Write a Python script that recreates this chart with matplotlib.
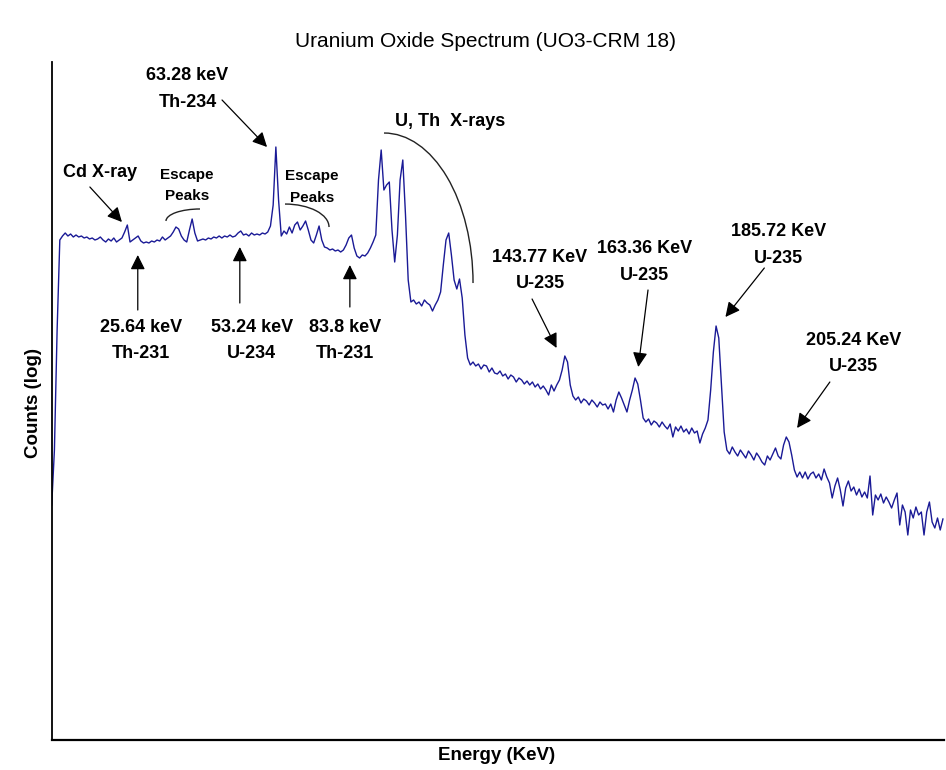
import matplotlib.pyplot as plt
import numpy as np
from matplotlib.patches import Arc

plt.rcParams['font.family'] = ['Liberation Sans', 'DejaVu Sans']

# MCA calibration of the spectrum (keV)
first_kev = 1.0
kev_per_channel = 0.75

# log10(counts) per channel
log_counts = [
    2.35, 2.90, 4.10, 5.00, 5.04, 5.07, 5.04, 5.06, 5.03, 5.05,
    5.03, 5.04, 5.02, 5.03, 5.01, 5.02, 5.00, 5.01, 5.03, 5.00,
    4.98, 5.01, 4.99, 5.02, 4.98, 5.00, 5.02, 5.08, 5.15, 4.98,
    5.00, 5.02, 5.04, 4.99, 4.97, 4.98, 4.97, 4.99, 4.98, 5.00,
    4.99, 5.03, 5.00, 5.02, 5.04, 5.08, 5.13, 5.11, 5.04, 5.00,
    4.98, 5.10, 5.21, 5.07, 4.99, 5.00, 5.01, 5.00, 5.02, 5.01,
    5.03, 5.02, 5.04, 5.02, 5.04, 5.03, 5.05, 5.03, 5.04, 5.07,
    5.09, 5.05, 5.06, 5.04, 5.07, 5.05, 5.06, 5.05, 5.07, 5.06,
    5.08, 5.14, 5.35, 5.93, 5.40, 5.04, 5.09, 5.06, 5.13, 5.07,
    5.15, 5.18, 5.10, 5.14, 5.19, 5.10, 5.00, 4.97, 5.05, 5.14,
    5.00, 4.93, 4.92, 4.90, 4.91, 4.89, 4.90, 4.88, 4.90, 4.95,
    5.02, 5.05, 4.92, 4.84, 4.82, 4.85, 4.84, 4.87, 4.92, 4.98,
    5.05, 5.60, 5.90, 5.50, 5.55, 5.58, 5.10, 4.78, 5.05, 5.60,
    5.80, 5.25, 4.60, 4.38, 4.40, 4.36, 4.38, 4.34, 4.40, 4.37,
    4.35, 4.29, 4.35, 4.40, 4.48, 4.75, 5.00, 5.07, 4.85, 4.60,
    4.51, 4.61, 4.42, 4.05, 3.82, 3.75, 3.78, 3.74, 3.76, 3.71,
    3.75, 3.74, 3.68, 3.72, 3.67, 3.66, 3.69, 3.64, 3.66, 3.61,
    3.65, 3.63, 3.58, 3.62, 3.60, 3.56, 3.59, 3.55, 3.58, 3.53,
    3.56, 3.51, 3.54, 3.50, 3.45, 3.55, 3.49, 3.55, 3.60, 3.70,
    3.84, 3.78, 3.55, 3.44, 3.40, 3.43, 3.37, 3.41, 3.39, 3.35,
    3.40, 3.37, 3.33, 3.38, 3.35, 3.36, 3.31, 3.36, 3.28, 3.40,
    3.48, 3.42, 3.35, 3.28, 3.40, 3.50, 3.62, 3.56, 3.40, 3.22,
    3.18, 3.21, 3.15, 3.19, 3.17, 3.13, 3.18, 3.14, 3.11, 3.16,
    3.03, 3.13, 3.09, 3.14, 3.08, 3.11, 3.06, 3.12, 3.07, 3.09,
    2.97, 3.06, 3.12, 3.20, 3.50, 3.88, 4.14, 4.02, 3.55, 3.08,
    2.90, 2.86, 2.93, 2.88, 2.84, 2.90, 2.86, 2.82, 2.89, 2.85,
    2.80, 2.87, 2.83, 2.78, 2.75, 2.84, 2.80, 2.86, 2.92, 2.84,
    2.81, 2.95, 3.03, 2.98, 2.85, 2.70, 2.63, 2.68, 2.62, 2.68,
    2.61, 2.66, 2.68, 2.62, 2.66, 2.60, 2.71, 2.63, 2.57, 2.42,
    2.54, 2.62, 2.50, 2.34, 2.52, 2.59, 2.49, 2.53, 2.45, 2.51,
    2.43, 2.48, 2.42, 2.64, 2.25, 2.45, 2.40, 2.46, 2.37, 2.43,
    2.38, 2.32, 2.40, 2.47, 2.15, 2.35, 2.28, 2.05, 2.30, 2.22,
    2.33, 2.25, 2.28, 2.05, 2.28, 2.38, 2.18, 2.12, 2.22, 2.10,
    2.21,
]

energy_kev = first_kev + kev_per_channel * np.arange(len(log_counts))
counts = 10.0 ** np.array(log_counts)

fig = plt.figure(figsize=(9.46, 7.70), dpi=100)
ax = fig.add_axes([0.05497, 0.03896, 0.94292, 0.88052])

ax.plot(energy_kev, counts, color='#1a1a96', lw=1.0)
ax.set_yscale('log')
ax.set_xlim(1.08, 248.8)
ax.set_ylim(1, 10 ** 6.78)

ax.set_xticks([])
ax.set_yticks([])
ax.minorticks_off()
ax.spines['top'].set_visible(False)
ax.spines['right'].set_visible(False)
ax.spines['left'].set_linewidth(1.3)
ax.spines['bottom'].set_linewidth(1.6)

fig.text(0.5137, 0.9394, 'Uranium Oxide Spectrum (UO3-CRM 18)',
         ha='center', va='baseline', fontsize=15)
fig.text(0.0349, 0.4766, 'Counts (log)', rotation=90, ha='center',
         va='center', fontsize=13.5, fontweight='bold')
fig.text(0.5254, 0.0182, 'Energy (KeV)', ha='center', va='center',
         fontsize=13.5, fontweight='bold')

label_kw = dict(ha='center', va='center', fontsize=13, fontweight='bold',
                linespacing=1.75)
small_kw = dict(ha='center', va='center', fontsize=11, fontweight='bold',
                linespacing=1.65)
arrow_kw = dict(arrowstyle='-|>', color='black', lw=0.9,
                mutation_scale=22, shrinkA=0, shrinkB=0)


def arrow(x0, l0, x1, l1):
    ax.annotate('', xy=(x1, 10 ** l1), xytext=(x0, 10 ** l0),
                arrowprops=arrow_kw)


# peak labels (energy keV, log10 counts)
ax.text(38.7, 10 ** 6.51, '63.28 keV\nTh-234', **label_kw)
arrow(48.3, 6.40, 60.8, 5.93)

ax.text(14.4, 10 ** 5.68, 'Cd X-ray', **label_kw)
arrow(11.6, 5.53, 20.5, 5.18)

ax.text(38.6, 10 ** 5.545, 'Escape\nPeaks', **small_kw)
ax.text(73.3, 10 ** 5.53, 'Escape\nPeaks', **small_kw)

ax.text(25.7, 10 ** 3.995, '25.64 keV\nTh-231', **label_kw)
arrow(24.9, 4.30, 24.9, 4.85)

ax.text(56.6, 10 ** 3.995, '53.24 keV\nU-234', **label_kw)
arrow(53.24, 4.37, 53.24, 4.93)

ax.text(82.4, 10 ** 3.995, '83.8 keV\nTh-231', **label_kw)
arrow(83.8, 4.33, 83.8, 4.75)

ax.text(96.3, 10 ** 6.19, 'U, Th  X-rays', ha='left', va='center',
        fontsize=13, fontweight='bold')

ax.text(136.6, 10 ** 4.695, '143.77 KeV\nU-235', **label_kw)
arrow(134.4, 4.41, 141.2, 3.92)

ax.text(165.6, 10 ** 4.78, '163.36 KeV\nU-235', **label_kw)
arrow(166.6, 4.50, 163.9, 3.73)

ax.text(202.8, 10 ** 4.95, '185.72 KeV\nU-235', **label_kw)
arrow(198.9, 4.72, 188.1, 4.23)

ax.text(223.6, 10 ** 3.865, '205.24 KeV\nU-235', **label_kw)
arrow(217.1, 3.58, 208.0, 3.12)

# brackets under the group labels
arc_kw = dict(transform=ax.transAxes, color='#222222', lw=1.0)
ax.add_patch(Arc((0.1659, 0.7655), 0.0762, 0.0354, theta1=90, theta2=180, **arc_kw))
ax.add_patch(Arc((0.2612, 0.7566), 0.0987, 0.0678, theta1=0, theta2=90, **arc_kw))
ax.add_patch(Arc((0.3722, 0.6740), 0.1996, 0.4425, theta1=0, theta2=90, **arc_kw))

fig.savefig('out.png', dpi=100)
